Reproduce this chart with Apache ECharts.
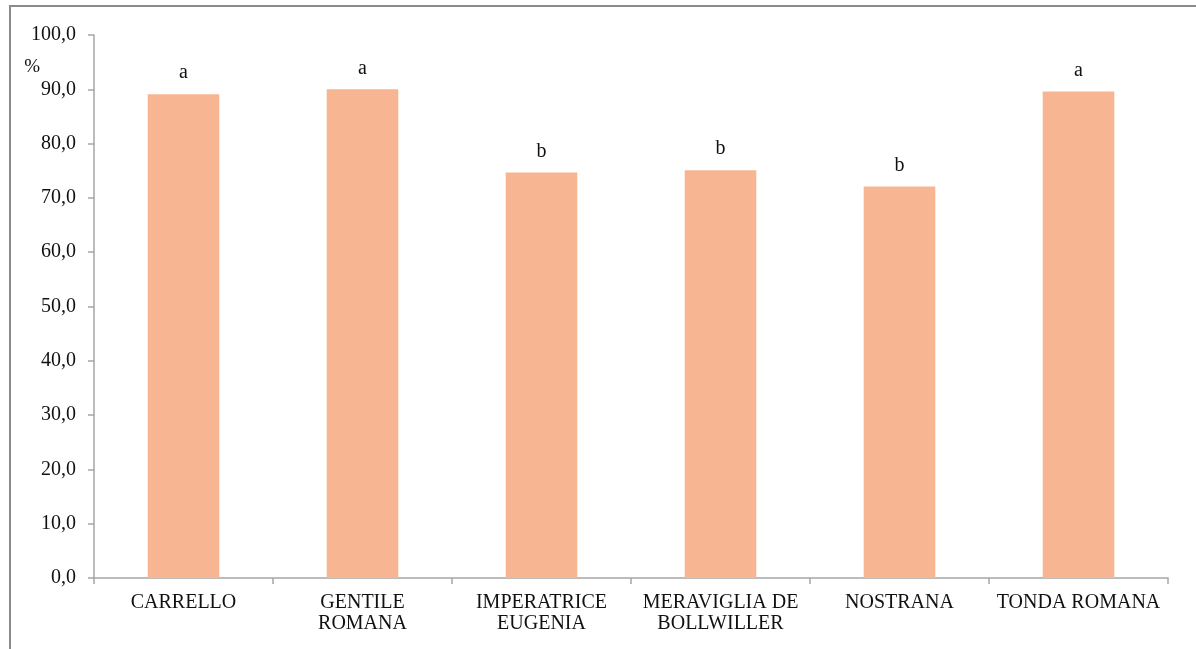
<!DOCTYPE html>
<html>
<head>
<meta charset="utf-8">
<script src="https://cdn.jsdelivr.net/npm/echarts@6/dist/echarts.min.js"></script>
<style>html,body{margin:0;padding:0;background:#fff}#c{width:1196px;height:649px}</style>
</head>
<body>
<div id="c"></div>
<script>
const categories = ['CARRELLO', 'GENTILE\nROMANA', 'IMPERATRICE\nEUGENIA', 'MERAVIGLIA DE\nBOLLWILLER', 'NOSTRANA', 'TONDA ROMANA'];
const values = [89.1, 90.0, 74.7, 75.1, 72.1, 89.6];
const letters = ['a', 'a', 'b', 'b', 'b', 'a'];
const yTicks = { min: 0, max: 100, interval: 10 };

const chart = echarts.init(document.getElementById('c'), null, { renderer: 'canvas' });
const serif = '"Liberation Serif", "DejaVu Serif", serif';
chart.setOption({
  animation: false,
  backgroundColor: '#fff',
  grid: { left: 94, right: 28, top: 35, bottom: 71, containLabel: false },
  graphic: [{
    type: 'rect', shape: { x: 10, y: 6, width: 1300, height: 800 },
    style: { fill: 'none', stroke: '#8a8a8a', lineWidth: 2 }, silent: true, z: -1
  }],
  xAxis: {
    type: 'category',
    data: categories,
    axisLine: { lineStyle: { color: '#a6a6a6', width: 1.5 } },
    axisTick: { show: true, length: 6, lineStyle: { color: '#a6a6a6', width: 1.5 } },
    axisLabel: { interval: 0, margin: 14, color: '#111', fontFamily: serif, fontSize: 20, lineHeight: 21 }
  },
  yAxis: {
    type: 'value',
    min: yTicks.min, max: yTicks.max, interval: yTicks.interval,
    name: '%',
    nameLocation: 'end',
    nameGap: -42,
    nameTextStyle: { color: '#111', fontFamily: serif, fontSize: 19, align: 'right', padding: [0, 54, 0, 0] },
    splitLine: { show: false },
    axisLine: { show: true, lineStyle: { color: '#a6a6a6', width: 1.5 } },
    axisTick: { show: true, length: 6, lineStyle: { color: '#a6a6a6', width: 1.5 } },
    axisLabel: { margin: 18, color: '#111', fontFamily: serif, fontSize: 20,
      formatter: v => v.toFixed(1).replace('.', ',') }
  },
  series: [{
    type: 'bar',
    data: values,
    barWidth: '40%',
    itemStyle: { color: '#F8B592' },
    label: {
      show: true, position: 'top', distance: 11,
      color: '#111', fontFamily: serif, fontSize: 20,
      formatter: p => letters[p.dataIndex]
    }
  }]
});
</script>
</body>
</html>
